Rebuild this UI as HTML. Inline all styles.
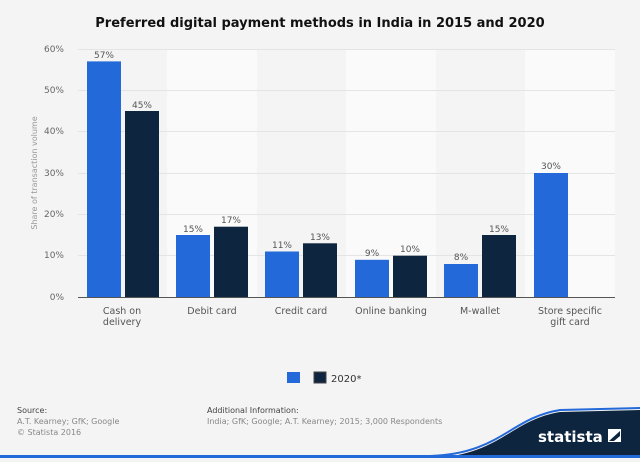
<!DOCTYPE html><html><head><style>body{margin:0;width:640px;height:458px;background:#f4f4f4;font-family:"DejaVu Sans","Liberation Sans",sans-serif;overflow:hidden}</style></head><body>
<svg width="640" height="458" xmlns="http://www.w3.org/2000/svg" font-family="DejaVu Sans, Liberation Sans, sans-serif">
<rect width="640" height="458" fill="#f4f4f4"/>
<text x="320" y="27" text-anchor="middle" font-size="13" font-weight="bold" fill="#111">Preferred digital payment methods in India in 2015 and 2020</text>
<rect x="167" y="49" width="90" height="248" fill="#fafafa"/>
<rect x="346" y="49" width="90" height="248" fill="#fafafa"/>
<rect x="525" y="49" width="90" height="248" fill="#fafafa"/>
<g stroke="#e4e4e4" stroke-width="1">
<line x1="78" x2="615" y1="49.5" y2="49.5"/><line x1="78" x2="615" y1="90.5" y2="90.5"/><line x1="78" x2="615" y1="131.5" y2="131.5"/><line x1="78" x2="615" y1="173.5" y2="173.5"/><line x1="78" x2="615" y1="214.5" y2="214.5"/><line x1="78" x2="615" y1="255.5" y2="255.5"/>
</g>
<g font-size="9" fill="#666" text-anchor="end">
<text x="64" y="52">60%</text><text x="64" y="93">50%</text><text x="64" y="134">40%</text><text x="64" y="176">30%</text><text x="64" y="217">20%</text><text x="64" y="258">10%</text><text x="64" y="300">0%</text>
</g>
<text transform="translate(37,173) rotate(-90)" text-anchor="middle" font-size="8" fill="#999">Share of transaction volume</text>
<g fill="#2369d9">
<rect x="87" y="61.4" width="34" height="235.6"/>
<rect x="176" y="235" width="34" height="62"/>
<rect x="265" y="251.5" width="34" height="45.5"/>
<rect x="355" y="259.8" width="34" height="37.2"/>
<rect x="444" y="264" width="34" height="33"/>
<rect x="534" y="173" width="34" height="124"/>
</g>
<g fill="#0d253f">
<rect x="125" y="111" width="34" height="186"/>
<rect x="214" y="226.7" width="34" height="70.3"/>
<rect x="303" y="243.3" width="34" height="53.7"/>
<rect x="393" y="255.7" width="34" height="41.3"/>
<rect x="482" y="235" width="34" height="62"/>
</g>
<line x1="78" x2="615" y1="297.5" y2="297.5" stroke="#555" stroke-width="1"/>
<g font-size="9" fill="#555" text-anchor="middle">
<text x="104" y="58">57%</text><text x="142" y="108">45%</text>
<text x="193" y="232">15%</text><text x="231" y="223">17%</text>
<text x="282" y="248">11%</text><text x="320" y="240">13%</text>
<text x="372" y="256">9%</text><text x="410" y="252">10%</text>
<text x="461" y="260">8%</text><text x="499" y="232">15%</text>
<text x="551" y="169">30%</text>
</g>
<g font-size="9.5" fill="#555" text-anchor="middle">
<text x="122" y="314">Cash on</text><text x="122" y="325">delivery</text>
<text x="212" y="314">Debit card</text>
<text x="301" y="314">Credit card</text>
<text x="391" y="314">Online banking</text>
<text x="480" y="314">M-wallet</text>
<text x="570" y="314">Store specific</text><text x="570" y="325">gift card</text>
</g>
<rect x="287" y="372" width="13" height="11" fill="#2369d9"/>
<rect x="314" y="372" width="12" height="11" fill="#0d253f" stroke="#444"/>
<text x="331" y="382" font-size="10" fill="#333">2020*</text>
<g font-size="8">
<text x="17" y="413" fill="#444">Source:</text>
<text x="17" y="424" fill="#888">A.T. Kearney; GfK; Google</text>
<text x="17" y="435" fill="#888">© Statista 2016</text>
<text x="207" y="413" fill="#444">Additional Information:</text>
<text x="207" y="424" fill="#888">India; GfK; Google; A.T. Kearney; 2015; 3,000 Respondents</text>
</g>
<path d="M430 458 C500 456 510 420 560 412 L640 410 L640 458 Z" fill="#0d253f"/>
<path d="M430 456 C500 454 510 418 560 410 L640 408" fill="none" stroke="#2369d9" stroke-width="2"/>
<rect x="0" y="455" width="640" height="3" fill="#2369d9"/>
<text x="538" y="442" font-size="15" font-weight="bold" fill="#fff">statista</text>
<rect x="608" y="429" width="13" height="13" fill="#fff"/>
<path d="M609 441 L620 431 L620 436 L614 441 Z" fill="#0d253f"/>
</svg>
</body></html>
